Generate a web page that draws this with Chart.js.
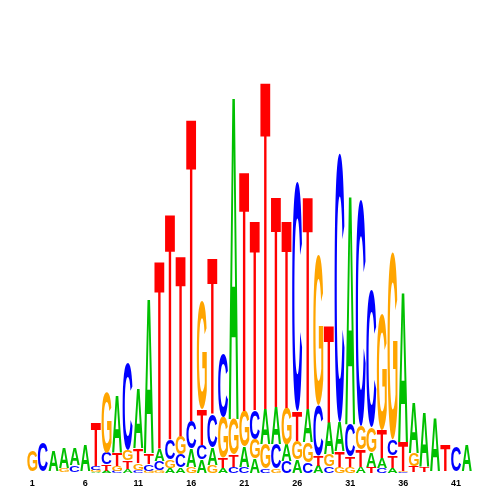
<!DOCTYPE html>
<html>
<head>
<meta charset="utf-8">
<script src="https://cdn.jsdelivr.net/npm/chart.js@4/dist/chart.umd.min.js"></script>
<style>
  html, body { margin: 0; padding: 0; background: #fff; }
  #wrap { width: 500px; height: 500px; }
</style>
</head>
<body>
<div id="wrap"><canvas id="logo" width="500" height="500"></canvas></div>
<script>
  // sequence positions and tick labels
  const positions = [1,2,3,4,5,6,7,8,9,10,11,12,13,14,15,16,17,18,19,20,21,
    22,23,24,25,26,27,28,29,30,31,32,33,34,35,36,37,38,39,40,41,42];
  const tickLabels = [1, 6, 11, 16, 21, 26, 31, 36, 41];

  // letter heights in bits, one value per position
  const heightA = [0.002,0.002,0.100,0.100,0.085,0.130,0.005,0.010,0.280,0.020,0.295,0.770,0.060,0.025,
    0.025,0.090,0.065,0.085,0.025,1.610,0.100,0.070,0.175,0.185,0.080,0.065,0.165,0.035,
    0.160,0.145,1.140,0.030,0.070,0.050,0.025,0.745,0.250,0.270,0.265,0.002,0.002,0.130];
  const heightC = [0.002,0.140,0.002,0.002,0.035,0.002,0.020,0.060,0.010,0.430,0.015,0.035,0.045,0.100,
    0.065,0.135,0.070,0.165,0.315,0.030,0.030,0.145,0.020,0.120,0.060,1.135,0.050,0.250,
    0.030,1.330,0.160,1.120,0.675,0.025,0.080,0.004,0.002,0.002,0.002,0.002,0.125,0.002];
  const heightG = [0.105,0.002,0.002,0.020,0.002,0.002,0.010,0.300,0.025,0.050,0.035,0.010,0.015,0.040,
    0.090,0.030,0.535,0.040,0.200,0.175,0.175,0.095,0.120,0.020,0.180,0.090,0.100,0.745,
    0.060,0.030,0.030,0.115,0.125,0.575,0.925,0.004,0.065,0.002,0.002,0.002,0.002,0.002];
  const heightT = [0.002,0.002,0.002,0.002,0.002,0.002,0.215,0.030,0.065,0.040,0.070,0.050,0.935,1.125,
    0.900,1.510,0.175,0.775,0.050,0.060,1.195,0.945,1.635,1.050,0.935,0.150,1.060,0.050,
    0.480,0.075,0.050,0.085,0.030,0.140,0.060,0.145,0.030,0.025,0.002,0.130,0.002,0.002];

  const letters = ["A", "C", "G", "T"];
  const letterColors = { A: "#00c000", C: "#0000ff", G: "#ffa500", T: "#ff0000" };
  const series = { A: heightA, C: heightC, G: heightG, T: heightT };

  const glyphFont = 'bold 100px "Liberation Sans", Arial, sans-serif';
  const glyphCache = {};

  function glyphBox(ctx, ch) {
    if (!glyphCache[ch]) {
      ctx.font = glyphFont;
      const m = ctx.measureText(ch);
      glyphCache[ch] = {
        left: m.actualBoundingBoxLeft,
        width: m.actualBoundingBoxLeft + m.actualBoundingBoxRight,
        descent: m.actualBoundingBoxDescent,
        height: m.actualBoundingBoxAscent + m.actualBoundingBoxDescent,
      };
    }
    return glyphCache[ch];
  }

  // stretch one letter so its ink fills the box
  function drawLetter(ctx, ch, x0, x1, yTop, yBottom) {
    const h = yBottom - yTop;
    if (h < 0.6) return;
    const g = glyphBox(ctx, ch);
    ctx.save();
    ctx.translate(x0, yBottom);
    ctx.scale((x1 - x0) / g.width, h / g.height);
    ctx.font = glyphFont;
    ctx.textBaseline = "alphabetic";
    ctx.textAlign = "left";
    ctx.fillStyle = letterColors[ch];
    ctx.fillText(ch, g.left, -g.descent);
    ctx.restore();
  }

  const logoPlugin = {
    id: "logo",
    afterDatasetsDraw(chart) {
      const { ctx, scales: { x, y } } = chart;
      positions.forEach((pos, i) => {
        const stack = letters
          .map((ch) => ({ ch, h: series[ch][i] }))
          .sort((a, b) => a.h - b.h);
        const x0 = x.getPixelForValue(pos - 0.47);
        const x1 = x.getPixelForValue(pos + 0.47);
        let base = 0;
        stack.forEach(({ ch, h }) => {
          const yBottom = y.getPixelForValue(base);
          const yTop = y.getPixelForValue(base + h);
          drawLetter(ctx, ch, x0, x1, yTop, yBottom);
          base += h;
        });
      });
    },
  };

  new Chart(document.getElementById("logo"), {
    type: "scatter",
    data: {
      datasets: letters.map((ch) => ({
        label: ch,
        data: positions.map((pos, i) => ({ x: pos, y: series[ch][i] })),
        pointRadius: 0,
        showLine: false,
      })),
    },
    options: {
      responsive: false,
      animation: false,
      devicePixelRatio: 1,
      layout: { padding: { left: 27, right: 28, top: 68, bottom: 6.5 } },
      plugins: { legend: { display: false }, tooltip: { enabled: false } },
      scales: {
        x: {
          type: "linear",
          min: 0.5,
          max: 42.5,
          afterBuildTicks: (scale) => {
            scale.ticks = tickLabels.map((v) => ({ value: v }));
          },
          grid: { display: false, drawTicks: false },
          border: { display: false },
          ticks: {
            autoSkip: false,
            maxRotation: 0,
            padding: 5,
            color: "#000",
            font: { family: '"Liberation Sans", Arial, sans-serif', size: 9, weight: "bold" },
          },
        },
        y: { display: false, min: 0, max: 2 },
      },
    },
    plugins: [logoPlugin],
  });
</script>
</body>
</html>
